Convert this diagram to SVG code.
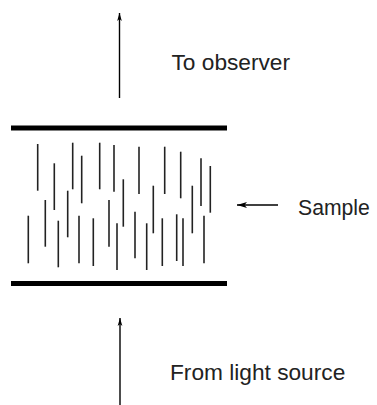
<svg xmlns="http://www.w3.org/2000/svg" width="377" height="405" viewBox="0 0 377 405">
<style>
.bar{stroke:#000;stroke-width:5}
.fib{stroke:#222;stroke-width:1.6}
.arr{stroke:#000;stroke-width:1.4;fill:none}
.lbl{font-family:"Liberation Sans",Arial,sans-serif;font-size:22.7px;fill:#222}
</style>
<defs>
<marker id="ah" markerUnits="userSpaceOnUse" markerWidth="8" markerHeight="14" refX="12" refY="3.5" orient="auto" viewBox="0 0 12 7">
<path d="M0,0 L12,3.5 L0,7 L3,3.5 Z" fill="#000"/>
</marker>
<marker id="ahs" markerUnits="userSpaceOnUse" markerWidth="10" markerHeight="6" refX="10" refY="3" orient="auto" viewBox="0 0 10 6">
<path d="M0,0 L10,3 L0,6 L2.5,3 Z" fill="#000"/>
</marker>
</defs>
<g id="sample">
<line class="bar" x1="11" y1="128" x2="227" y2="128"/>
<line class="bar" x1="11" y1="283.5" x2="227" y2="283.5"/>
<g id="fibres">
<line class="fib" x1="37.7" y1="144" x2="37.7" y2="190.7"/>
<line class="fib" x1="54.3" y1="163.3" x2="54.3" y2="210"/>
<line class="fib" x1="72.7" y1="142.7" x2="72.7" y2="189.3"/>
<line class="fib" x1="81.7" y1="155.7" x2="81.7" y2="203.3"/>
<line class="fib" x1="99.7" y1="142.7" x2="99.7" y2="189.3"/>
<line class="fib" x1="114" y1="145" x2="114" y2="191.7"/>
<line class="fib" x1="139" y1="146.7" x2="139" y2="194"/>
<line class="fib" x1="164.7" y1="146.7" x2="164.7" y2="194"/>
<line class="fib" x1="180.7" y1="151.7" x2="180.7" y2="198.3"/>
<line class="fib" x1="201" y1="158.3" x2="201" y2="206"/>
<line class="fib" x1="210.3" y1="166" x2="210.3" y2="212.7"/>
<line class="fib" x1="45.3" y1="200" x2="45.3" y2="246.7"/>
<line class="fib" x1="67.7" y1="190.7" x2="67.7" y2="237.3"/>
<line class="fib" x1="123.3" y1="179.3" x2="123.3" y2="226.7"/>
<line class="fib" x1="153.3" y1="185.7" x2="153.3" y2="233.3"/>
<line class="fib" x1="192.3" y1="185.7" x2="192.3" y2="233.3"/>
<line class="fib" x1="28.3" y1="215.7" x2="28.3" y2="263.3"/>
<line class="fib" x1="58.3" y1="220.7" x2="58.3" y2="267.3"/>
<line class="fib" x1="79" y1="215.7" x2="79" y2="263.3"/>
<line class="fib" x1="93.3" y1="218.3" x2="93.3" y2="266"/>
<line class="fib" x1="109" y1="200" x2="109" y2="246.7"/>
<line class="fib" x1="117" y1="223.3" x2="117" y2="270"/>
<line class="fib" x1="135" y1="211.7" x2="135" y2="258.3"/>
<line class="fib" x1="146.7" y1="223.3" x2="146.7" y2="270"/>
<line class="fib" x1="162.3" y1="218.3" x2="162.3" y2="266"/>
<line class="fib" x1="176.7" y1="214.3" x2="176.7" y2="261"/>
<line class="fib" x1="183" y1="218.3" x2="183" y2="266"/>
<line class="fib" x1="204" y1="215.7" x2="204" y2="263.3"/>
</g>
</g>
<g id="connectors">
<line class="arr" x1="119.5" y1="98" x2="119.5" y2="13" marker-end="url(#ah)"/>
<line class="arr" x1="120" y1="405" x2="120" y2="318" marker-end="url(#ah)"/>
<line class="arr" x1="278" y1="205" x2="237" y2="205" marker-end="url(#ahs)"/>
</g>
<g id="label-observer"><text class="lbl" x="171.5" y="70">To observer</text></g>
<g id="label-sample"><text class="lbl" x="298" y="215" style="font-size:21.2px">Sample</text></g>
<g id="label-source"><text class="lbl" x="170" y="380">From light source</text></g>
</svg>
